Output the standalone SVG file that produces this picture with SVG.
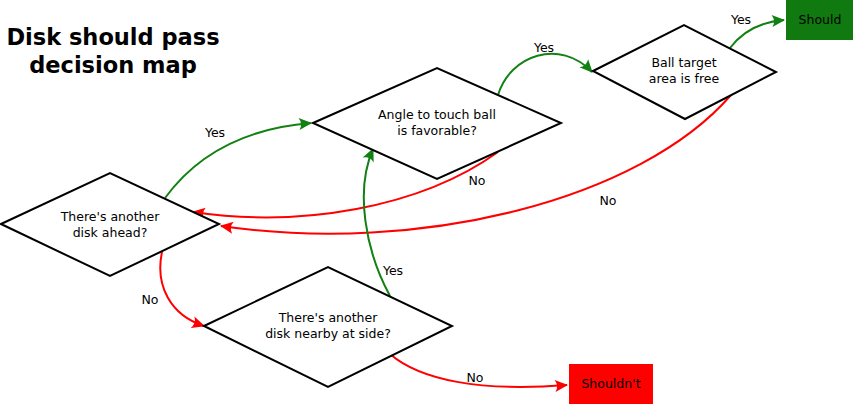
<svg xmlns="http://www.w3.org/2000/svg" width="855" height="405" viewBox="0 0 855 405">
<defs>
<style>
.d{fill:#fff;stroke:#000;stroke-width:2}
.t{font-family:"DejaVu Sans",sans-serif;font-size:12.5px;fill:#000;text-anchor:middle}
.g{fill:none;stroke:#138013;stroke-width:2}
.r{fill:none;stroke:#ff0000;stroke-width:2}
.title{font-family:"DejaVu Sans",sans-serif;font-size:22.5px;font-weight:bold;text-anchor:middle}
</style>
<marker id="ag" markerUnits="userSpaceOnUse" markerWidth="16" markerHeight="14" viewBox="-14 -7 16 14" refX="0" refY="0" orient="auto">
<path d="M1,0 L-12,-6 Q-8,0 -12,6 Z" fill="#138013"/>
</marker>
<marker id="ar" markerUnits="userSpaceOnUse" markerWidth="16" markerHeight="14" viewBox="-14 -7 16 14" refX="0" refY="0" orient="auto">
<path d="M1,0 L-12,-6 Q-8,0 -12,6 Z" fill="#ff0000"/>
</marker>
</defs>
<rect width="855" height="405" fill="#fff"/>
<g id="title">
<text class="title" x="113" y="45">Disk should pass</text>
<text class="title" x="113" y="73">decision map</text>
</g>
<g id="connectors">
<path class="g" d="M165,198 C200,150 250,128 311,123" marker-end="url(#ag)"/>
<text class="t" x="215" y="137">Yes</text>
<path class="g" d="M498,95 C510,55 560,38 592,72" marker-end="url(#ag)"/>
<text class="t" x="544" y="52">Yes</text>
<path class="g" d="M730,48 C742,32 760,22 784,20" marker-end="url(#ag)"/>
<text class="t" x="741" y="24">Yes</text>
<path class="r" d="M498,152 C420,208 300,228 193,212" marker-end="url(#ar)"/>
<text class="t" x="477" y="185">No</text>
<path class="r" d="M731,95 C640,200 420,255 221,226" marker-end="url(#ar)"/>
<text class="t" x="608" y="205">No</text>
<path class="r" d="M162,252 C155,285 170,315 204,326" marker-end="url(#ar)"/>
<text class="t" x="150" y="304">No</text>
<path class="g" d="M390,296 C365,250 355,190 373,149" marker-end="url(#ag)"/>
<text class="t" x="393" y="275">Yes</text>
<path class="r" d="M390,354 C420,380 480,392 567,385" marker-end="url(#ar)"/>
<text class="t" x="475" y="382">No</text>
</g>
<g id="nodeA">
<polygon class="d" points="1,224 110,173 219,224 110,276"/>
<text class="t" x="110" y="221">There's another</text>
<text class="t" x="110" y="237">disk ahead?</text>
</g>
<g id="nodeB">
<polygon class="d" points="313,123 437,68 561,123 437,179"/>
<text class="t" x="437" y="119">Angle to touch ball</text>
<text class="t" x="437" y="135">is favorable?</text>
</g>
<g id="nodeC">
<polygon class="d" points="593,71 684,25 776,72 685,119"/>
<text class="t" x="684" y="67">Ball target</text>
<text class="t" x="684" y="83">area is free</text>
</g>
<g id="nodeD">
<polygon class="d" points="204,326 328,267 452,326 328,387"/>
<text class="t" x="328" y="322">There's another</text>
<text class="t" x="328" y="338">disk nearby at side?</text>
</g>
<g id="should">
<rect x="786" y="0" width="67" height="40" fill="#107a10"/>
<text class="t" x="820" y="24">Should</text>
</g>
<g id="shouldnt">
<rect x="569" y="364" width="84" height="40" fill="#ff0000"/>
<text class="t" x="611" y="388">Shouldn't</text>
</g>
</svg>
